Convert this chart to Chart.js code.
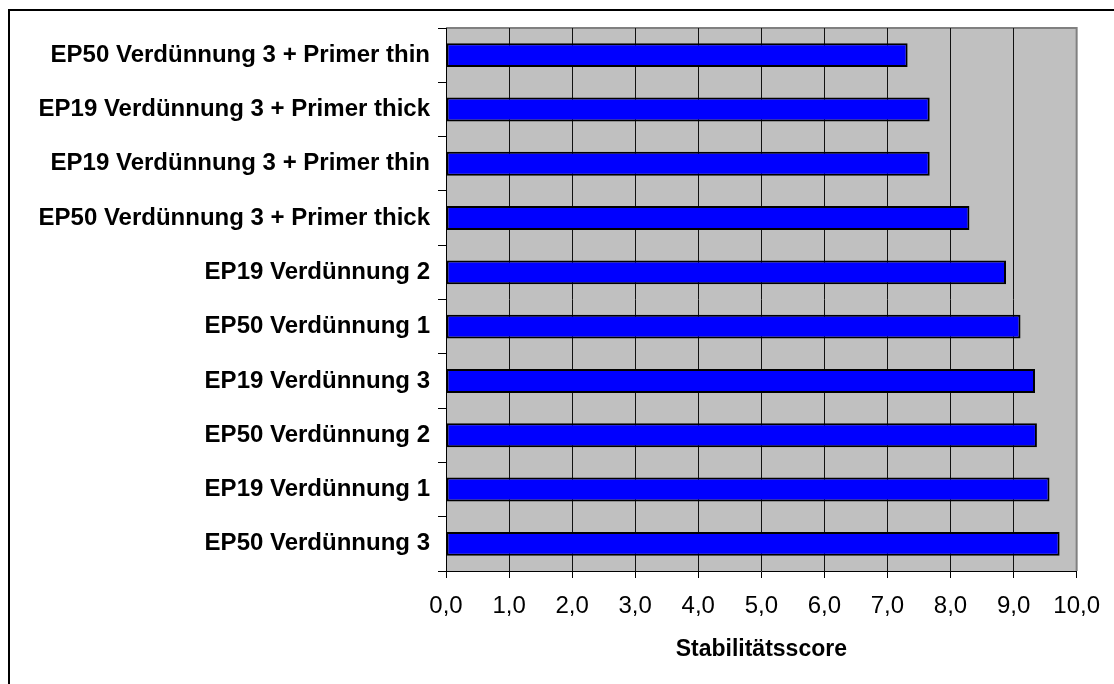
<!DOCTYPE html>
<html>
<head>
<meta charset="utf-8">
<script src="https://cdn.jsdelivr.net/npm/chart.js@4"></script>
<style>
  html, body { margin: 0; padding: 0; background: #fff; overflow: hidden; }
  #frame {
    position: absolute; left: 8px; top: 9px; width: 2000px; height: 2000px;
    border-top: 2px solid #000; border-left: 2px solid #000;
  }
  #chart { position: absolute; left: 0; top: 0; }
</style>
</head>
<body>
<div id="frame"></div>
<canvas id="chart" width="1114" height="684"></canvas>
<script>
// categories, top to bottom
const categories = [
    'EP50 Verdünnung 3 + Primer thin',
    'EP19 Verdünnung 3 + Primer thick',
    'EP19 Verdünnung 3 + Primer thin',
    'EP50 Verdünnung 3 + Primer thick',
    'EP19 Verdünnung 2',
    'EP50 Verdünnung 1',
    'EP19 Verdünnung 3',
    'EP50 Verdünnung 2',
    'EP19 Verdünnung 1',
    'EP50 Verdünnung 3'
];

const scores = [7.32, 7.67, 7.67, 8.30, 8.88, 9.11, 9.34, 9.37, 9.57, 9.73];

const xTickLabels = ['0,0', '1,0', '2,0', '3,0', '4,0', '5,0', '6,0', '7,0', '8,0', '9,0', '10,0'];

const axisTitle = 'Stabilitätsscore';

// grey plot area with thin grey border on top / right
const plotBackground = {
    id: 'plotBackground',
    beforeDraw(chart) {
        const { ctx, chartArea: a } = chart;
        ctx.save();
        ctx.fillStyle = '#C0C0C0';
        ctx.fillRect(a.left, a.top, a.right - a.left, a.bottom - a.top);
        ctx.strokeStyle = '#808080';
        ctx.lineWidth = 2;
        ctx.beginPath();
        ctx.moveTo(a.left, a.top);
        ctx.lineTo(a.right, a.top);
        ctx.lineTo(a.right, a.bottom);
        ctx.stroke();
        ctx.restore();
    }
};

new Chart(document.getElementById('chart'), {
    type: 'bar',
    data: {
        labels: categories,
        datasets: [{
            label: axisTitle,
            data: scores,
            backgroundColor: '#0000FF',
            borderColor: '#000000',
            borderWidth: 2,
            borderSkipped: false,
            categoryPercentage: 1.0,
            barPercentage: 0.44
        }]
    },
    options: {
        indexAxis: 'y',
        responsive: false,
        animation: false,
        devicePixelRatio: 1,
        layout: {
            padding: { top: 28, right: 35, left: 0, bottom: 0 }
        },
        scales: {
            x: {
                min: 0,
                max: 10,
                afterFit: function(scale) { scale.height = 113; },
                grid: {
                    color: function(c) { return c.tick && c.tick.value === 10 ? '#808080' : '#111111'; },
                    tickColor: '#000000',
                    lineWidth: 1,
                    tickLength: 7
                },
                border: { color: '#000000', width: 1 },
                ticks: {
                    stepSize: 1,
                    autoSkip: false,
                    maxRotation: 0,
                    padding: 14,
                    color: '#000000',
                    font: { family: 'Liberation Sans, Arial, sans-serif', size: 24 },
                    callback: function(value, index) { return xTickLabels[index]; }
                },
                title: {
                    display: true,
                    text: axisTitle,
                    color: '#000000',
                    font: { family: 'Liberation Sans, Arial, sans-serif', size: 23, weight: 'bold' },
                    padding: { top: 4, bottom: 21 }
                }
            },
            y: {
                afterFit: function(scale) { scale.width = 446; },
                grid: {
                    offset: true,
                    drawOnChartArea: false,
                    color: '#000000',
                    tickLength: 8
                },
                border: { color: '#000000', width: 1 },
                ticks: {
                    padding: 8,
                    color: '#000000',
                    font: { family: 'Liberation Sans, Arial, sans-serif', size: 24, weight: 'bold' }
                }
            }
        },
        plugins: {
            legend: { display: false },
            tooltip: { enabled: false }
        }
    },
    plugins: [plotBackground]
});
</script>
</body>
</html>
